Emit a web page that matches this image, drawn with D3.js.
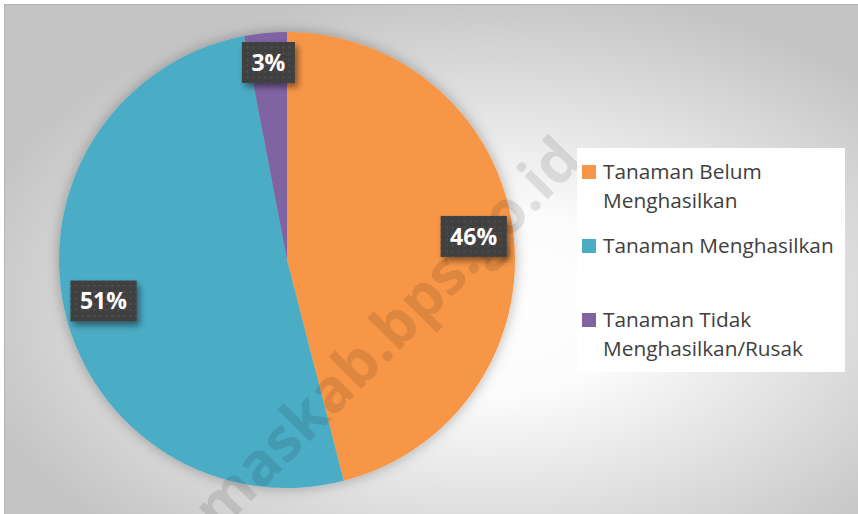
<!DOCTYPE html>
<html>
<head>
<meta charset="utf-8">
<script src="https://cdn.jsdelivr.net/npm/d3@7"></script>
<style>
  html, body { margin: 0; padding: 0; background: #fff; }
  svg { display: block; }
</style>
</head>
<body>
<svg id="chart" width="858" height="514"></svg>
<script>
// data
const categories = [
  "Tanaman Belum Menghasilkan",
  "Tanaman Menghasilkan",
  "Tanaman Tidak Menghasilkan/Rusak",
];
const shares = [46, 51, 3]; // percent
const colors = ["#F79646", "#4BACC6", "#8064A2"];
const watermark = "maskab.bps.go.id";

const W = 858, H = 514;
const cx = 287, cy = 260, radius = 228;

const svg = d3.select("#chart");
const defs = svg.append("defs");

// background gradient
const bg = defs.append("radialGradient")
  .attr("id", "bg")
  .attr("cx", "0.56").attr("cy", "0.58").attr("r", "0.62");
bg.append("stop").attr("offset", "0").attr("stop-color", "#ffffff");
bg.append("stop").attr("offset", "0.3").attr("stop-color", "#fbfbfb");
bg.append("stop").attr("offset", "1").attr("stop-color", "#c4c4c4");

const pieShadow = defs.append("filter").attr("id", "pieShadow")
  .attr("x", "-20%").attr("y", "-20%").attr("width", "140%").attr("height", "140%");
pieShadow.append("feDropShadow")
  .attr("dx", 0).attr("dy", 0).attr("stdDeviation", 7)
  .attr("flood-color", "#000").attr("flood-opacity", 0.3);

const boxShadow = defs.append("filter").attr("id", "boxShadow")
  .attr("x", "-30%").attr("y", "-30%").attr("width", "170%").attr("height", "170%");
boxShadow.append("feDropShadow")
  .attr("dx", 3).attr("dy", 4).attr("stdDeviation", 3)
  .attr("flood-color", "#000").attr("flood-opacity", 0.45);

// dotted pattern for the label boxes
const dots = defs.append("pattern").attr("id", "dots")
  .attr("patternUnits", "userSpaceOnUse").attr("width", 6).attr("height", 6);
dots.append("rect").attr("width", 6).attr("height", 6).attr("fill", "#3f3f3f");
dots.append("rect").attr("x", 2).attr("y", 2).attr("width", 2).attr("height", 2).attr("fill", "#4f4f4f");

svg.append("rect")
  .attr("x", 4.5).attr("y", 4.5)
  .attr("width", W).attr("height", H)
  .attr("fill", "url(#bg)")
  .attr("stroke", "#b5b5b5");

// pie
const pie = d3.pie().sort(null).value((d) => d.value);
const arcs = pie(categories.map((c, i) => ({ name: c, value: shares[i], color: colors[i] })));
const arc = d3.arc().innerRadius(0).outerRadius(radius);

const pieLayer = svg.append("g")
  .attr("transform", `translate(${cx},${cy})`)
  .attr("filter", "url(#pieShadow)");

pieLayer.selectAll("path.slice")
  .data(arcs)
  .join("path")
  .attr("class", "slice")
  .attr("d", arc)
  .attr("fill", (d) => d.data.color);

// watermark
svg.append("text")
  .attr("transform", "translate(385,332) rotate(-45.5)")
  .attr("text-anchor", "middle")
  .attr("dominant-baseline", "central")
  .attr("font-family", "'Open Sans', sans-serif")
  .attr("font-weight", 700)
  .attr("font-size", 60)
  .attr("fill", "#000")
  .attr("fill-opacity", 0.1)
  .text(watermark);

// data labels
const labelArc = (d) => {
  const r = (d.endAngle - d.startAngle) < 0.35 ? radius * 0.87 : radius * 0.825;
  return d3.arc().innerRadius(r).outerRadius(r).centroid(d);
};
const fmt = (v) => Math.round(v) + "%";

const labels = svg.append("g")
  .attr("transform", `translate(${cx},${cy})`)
  .selectAll("g.label")
  .data(arcs)
  .join("g")
  .attr("class", "label")
  .attr("transform", (d) => `translate(${labelArc(d)})`);

labels.append("text")
  .attr("text-anchor", "middle")
  .attr("dy", "0.36em")
  .attr("font-family", "'Open Sans', sans-serif")
  .attr("font-weight", 700)
  .attr("font-size", 23)
  .attr("fill", "#fff")
  .text((d) => fmt(d.data.value));

labels.each(function () {
  const g = d3.select(this);
  const bb = g.select("text").node().getBBox();
  const padX = 9.5;
  g.insert("rect", "text")
    .attr("x", bb.x - padX)
    .attr("y", -20.5)
    .attr("width", bb.width + padX * 2)
    .attr("height", 41)
    .attr("fill", "url(#dots)")
    .attr("filter", "url(#boxShadow)");
});

// legend
const legendBox = svg.append("g");
legendBox.append("rect")
  .attr("x", 577).attr("y", 148)
  .attr("width", 268).attr("height", 224)
  .attr("fill", "#fff");

const ly = d3.scalePoint().domain(categories).range([172, 320]);

function wrapWords(text, maxW, measure) {
  const words = text.split(" ");
  const lines = [];
  let cur = "";
  words.forEach((w) => {
    const t = cur ? cur + " " + w : w;
    if (cur && measure(t) > maxW) { lines.push(cur); cur = w; }
    else cur = t;
  });
  if (cur) lines.push(cur);
  return lines;
}

const legendFont = 20.8;
const measurer = svg.append("text")
  .attr("font-family", "'Open Sans', sans-serif")
  .attr("font-size", legendFont)
  .attr("visibility", "hidden");
const measure = (t) => { measurer.text(t); return measurer.node().getComputedTextLength(); };

const items = legendBox.selectAll("g.item")
  .data(arcs)
  .join("g")
  .attr("class", "item")
  .attr("transform", (d) => `translate(582,${ly(d.data.name)})`);

items.append("rect")
  .attr("x", 0).attr("y", -7)
  .attr("width", 14).attr("height", 14)
  .attr("fill", (d) => d.data.color);

items.append("text")
  .attr("font-family", "'Open Sans', sans-serif")
  .attr("font-size", legendFont)
  .attr("fill", "#404040")
  .each(function (d) {
    const lines = wrapWords(d.data.name, 240, measure);
    d3.select(this).selectAll("tspan")
      .data(lines)
      .join("tspan")
      .attr("x", 21)
      .attr("y", (_, i) => 7 + i * 29)
      .text((l) => l);
  });

measurer.remove();
</script>
</body>
</html>
